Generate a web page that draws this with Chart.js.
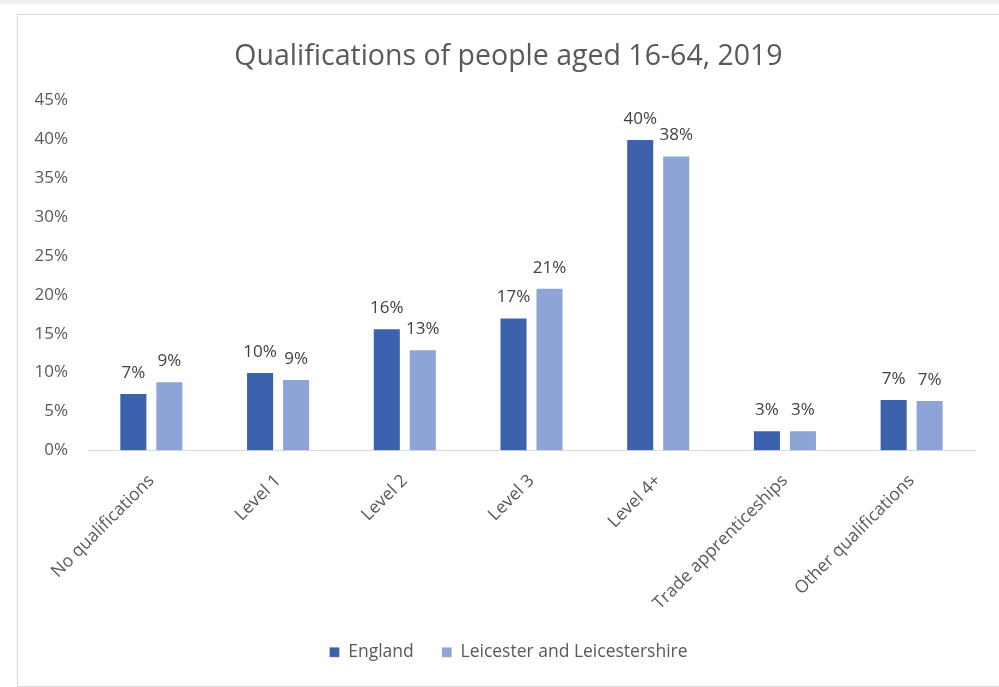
<!DOCTYPE html>
<html>
<head>
<meta charset="utf-8">
<script src="https://cdn.jsdelivr.net/npm/chart.js@4/dist/chart.umd.min.js"></script>
<style>
  html, body { margin: 0; padding: 0; background: #ffffff; width: 999px; height: 687px; overflow: hidden; }
  .strip { position: absolute; left: 0; top: 0; width: 999px; height: 4px; background: #f0f0f0; }
  .frame { position: absolute; left: 17px; top: 14px; width: 1000px; height: 671px; border: 1px solid #d9d9d9; background: #ffffff; }
  canvas { position: absolute; left: 18px; top: 15px; }
</style>
</head>
<body>
<div class="strip"></div>
<div class="frame"></div>
<canvas id="chart" width="981" height="671"></canvas>
<script>
// Qualification levels on the category axis
const categories = [
  'No qualifications', 'Level 1', 'Level 2', 'Level 3',
  'Level 4+', 'Trade apprenticeships', 'Other qualifications'
];
// Share of people aged 16-64 (%)
const englandValues = [7.4, 10.1, 15.7, 17.1, 40.0, 2.6, 6.6];
const leicsValues   = [8.9, 9.2, 13.0, 20.9, 37.9, 2.6, 6.5];
// Value axis ticks (%)
const yTickValues = [0, 5, 10, 15, 20, 25, 30, 35, 40, 45];

const seriesNames = ['England', 'Leicester and Leicestershire'];
const seriesColors = ['#3d62ad', '#8fa4d6'];

const FONT = '"Open Sans", "DejaVu Sans", sans-serif';

// Writes each bar's rounded value just above its top
const valueLabels = {
  id: 'valueLabels',
  afterDatasetsDraw(chart) {
    const ctx = chart.ctx;
    ctx.save();
    ctx.font = '17px ' + FONT;
    ctx.fillStyle = '#404040';
    ctx.textAlign = 'center';
    ctx.textBaseline = 'alphabetic';
    chart.data.datasets.forEach((ds, i) => {
      chart.getDatasetMeta(i).data.forEach((bar, j) => {
        ctx.fillText(Math.round(ds.data[j]) + '%', bar.x, bar.y - 15);
      });
    });
    ctx.restore();
  }
};

new Chart(document.getElementById('chart'), {
  type: 'bar',
  data: {
    labels: categories,
    datasets: [
      { label: seriesNames[0], data: englandValues, backgroundColor: seriesColors[0],
        borderColor: 'rgba(255,255,255,0.3)', borderWidth: 1 },
      { label: seriesNames[1], data: leicsValues, backgroundColor: seriesColors[1],
        borderColor: 'rgba(255,255,255,0.3)', borderWidth: 1 }
    ]
  },
  options: {
    responsive: false,
    animation: false,
    devicePixelRatio: 1,
    layout: { padding: { left: 0, right: 0, top: 0, bottom: 15 } },
    datasets: { bar: { categoryPercentage: 0.568, barPercentage: 0.78 } },
    scales: {
      x: {
        grid: { display: false, drawTicks: false },
        border: { display: true, color: '#d9d9d9', width: 1 },
        ticks: {
          autoSkip: false, minRotation: 45, maxRotation: 45,
          color: '#595959', font: { family: FONT, size: 17.5 }, padding: 20
        },
        afterFit(scale) { scale.height = 165; }
      },
      y: {
        min: 0, max: 45,
        grid: { display: false, drawTicks: false },
        border: { display: false },
        afterBuildTicks(scale) { scale.ticks = yTickValues.map(v => ({ value: v })); },
        ticks: {
          color: '#595959', font: { family: FONT, size: 17 }, padding: 20,
          callback: v => v + '%'
        },
        afterFit(scale) { scale.width = 70; }
      },
      // empty margin to the right of the plot
      yRight: {
        position: 'right',
        grid: { display: false, drawTicks: false },
        border: { display: false },
        ticks: { display: false },
        afterFit(scale) { scale.width = 24; }
      }
    },
    plugins: {
      title: {
        display: true,
        text: 'Qualifications of people aged 16-64, 2019',
        color: '#595959',
        font: { family: FONT, size: 28.5, weight: 'normal' },
        padding: { top: 25, bottom: 26 }
      },
      legend: {
        position: 'bottom',
        labels: {
          color: '#595959', font: { family: FONT, size: 17.5 },
          boxWidth: 10, boxHeight: 10, padding: 28
        }
      },
      tooltip: { enabled: false }
    }
  },
  plugins: [valueLabels]
});
</script>
</body>
</html>
